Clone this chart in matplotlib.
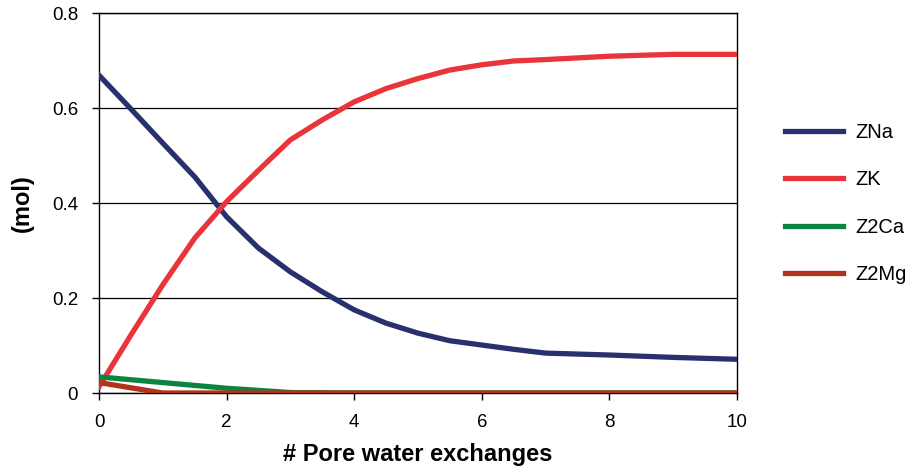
import matplotlib
matplotlib.use("Agg")
import matplotlib.pyplot as plt

plt.rcParams["font.family"] = ["Liberation Sans", "DejaVu Sans"]

# exchange steps (pore volumes) for the monovalent species
x_mono = [0, 0.5, 1, 1.5, 2, 2.5, 3, 3.5, 4, 4.5, 5, 5.5, 6, 6.5, 7, 8, 9, 10]
zna = [0.669, 0.598, 0.526, 0.455, 0.371, 0.305, 0.255, 0.213, 0.175, 0.147,
       0.126, 0.110, 0.101, 0.092, 0.084, 0.080, 0.075, 0.071]
zk = [0.013, 0.122, 0.228, 0.326, 0.403, 0.469, 0.533, 0.575, 0.613, 0.641,
      0.662, 0.680, 0.691, 0.699, 0.702, 0.709, 0.713, 0.713]

# divalent species at whole exchanges
x_di = [0, 1, 2, 3, 4, 5, 6, 7, 8, 9, 10]
z2ca = [0.034, 0.022, 0.010, 0.001, 0, 0, 0, 0, 0, 0, 0]
z2mg = [0.022, 0.0, 0, 0, 0, 0, 0, 0, 0, 0, 0]

colors = {"ZNa": "#29306E", "ZK": "#E8343A", "Z2Ca": "#0B8441", "Z2Mg": "#B2321A"}

fig = plt.figure(figsize=(9.06, 4.73), dpi=100)
ax = fig.add_axes([0.1093, 0.1691, 0.7042, 0.8034])

lw = 3.8
ax.plot(x_mono, zna, color=colors["ZNa"], lw=lw, label="ZNa", zorder=3)
ax.plot(x_mono, zk, color=colors["ZK"], lw=lw, label="ZK", zorder=3)
ax.plot(x_di, z2ca, color=colors["Z2Ca"], lw=lw, label="Z2Ca", zorder=3)
ax.plot(x_di, z2mg, color=colors["Z2Mg"], lw=lw, label="Z2Mg", zorder=3)

ax.set_xlim(0, 10)
ax.set_ylim(0, 0.8)
ax.set_xticks([0, 2, 4, 6, 8, 10])
ax.set_yticks([0, 0.2, 0.4, 0.6, 0.8])
ax.set_yticklabels(["0", "0.2", "0.4", "0.6", "0.8"])
ax.tick_params(labelsize=13.5, length=5, width=1, color="black")
ax.tick_params(axis="y", pad=10)
ax.tick_params(axis="x", pad=10)
ax.grid(axis="y", color="black", lw=0.9)
ax.set_axisbelow(True)
for s in ax.spines.values():
    s.set_color("black")
    s.set_linewidth(1)

ax.set_xlabel("# Pore water exchanges", fontsize=17, fontweight="bold", labelpad=9)
ax.set_ylabel("(mol)", fontsize=17, fontweight="bold", labelpad=13)

fig.legend(loc="center left", bbox_to_anchor=(0.8664, 0.5698), frameon=False,
           fontsize=14.5, handlelength=2.9, labelspacing=1.4, handletextpad=0.62,
           borderpad=0, borderaxespad=0)

fig.savefig("out.png", dpi=100)
